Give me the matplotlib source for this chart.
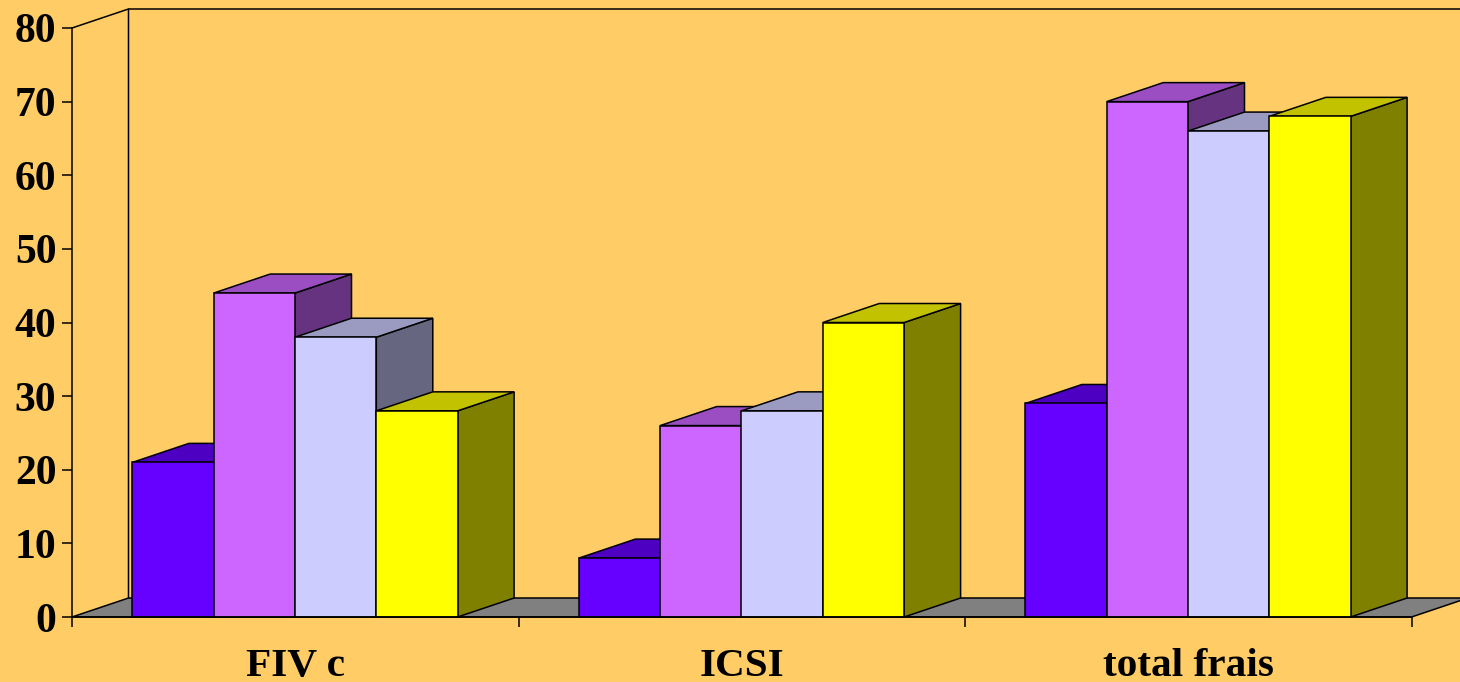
import matplotlib
matplotlib.use("Agg")
import matplotlib.pyplot as plt
import numpy as np

categories = ["FIV c", "ICSI", "total frais"]
series_1 = [21, 44, 38, 28]
series_2 = [8, 26, 28, 40]
series_3 = [29, 70, 66, 68]
yticks = list(range(0, 90, 10))

W, H = 1460, 682
BG = "#FFCC66"
FRONT = ["#6600FF", "#CC66FF", "#CCCCFF", "#FFFF00"]
TOP = ["#4D00C2", "#9B4EC2", "#9B9BC2", "#C2C200"]
SIDE = ["#330080", "#663380", "#666680", "#808000"]
FLOOR = "#808080"

plt.rcParams["font.family"] = ["Liberation Serif", "DejaVu Serif"]
fig = plt.figure(figsize=(W / 100, H / 100), dpi=100, facecolor=BG)
L, R, Y0, Y80 = 72.0, 1411.5, 617.0, 28.0
ax = fig.add_axes([L / W, 1 - Y0 / H, (R - L) / W, (Y0 - Y80) / H])
ax.set_xlim(0, 3)
ax.set_ylim(0, 80)
ax.patch.set_alpha(0)

ux = (R - L) / 3
uy = (Y0 - Y80) / 80
dx = 56.5 / ux
dy = 19.0 / uy
bar_w = 81.3 / ux
start = 60.4 / ux
lw = 1.1
kw = dict(edgecolor="black", linewidth=lw, clip_on=False, joinstyle="miter")

# floor and walls
right_end = 3 + dx
ax.fill([0, dx, right_end, 3], [0, dy, dy, 0], facecolor=FLOOR, zorder=1, **kw)
ax.plot([0, dx, dx], [80, 80 + dy, dy], color="black", lw=lw, clip_on=False, zorder=1)
ax.plot([dx, right_end], [80 + dy, 80 + dy], color="black", lw=lw, clip_on=False, zorder=1)

# bars
z = 2
for g, vals in enumerate([series_1, series_2, series_3]):
    for i, v in enumerate(vals):
        x0 = g + start + i * bar_w
        x1 = x0 + bar_w
        ax.fill([x1, x1 + dx, x1 + dx, x1], [0, dy, v + dy, v], facecolor=SIDE[i], zorder=z, **kw)
        ax.fill([x0, x0 + dx, x1 + dx, x1], [v, v + dy, v + dy, v], facecolor=TOP[i], zorder=z, **kw)
        ax.fill([x0, x1, x1, x0], [0, 0, v, v], facecolor=FRONT[i], zorder=z, **kw)
        z += 1

for s in ["top", "right"]:
    ax.spines[s].set_visible(False)
for s in ["left", "bottom"]:
    ax.spines[s].set_linewidth(lw)
    ax.spines[s].set_zorder(50)

ax.set_yticks(yticks)
ax.set_yticklabels([str(t) for t in yticks], fontsize=30, fontweight="bold")
ax.tick_params(axis="y", length=7.2, width=lw, pad=4)

ax.set_xticks([0, 1, 2, 3])
ax.set_xticklabels([])
ax.tick_params(axis="x", which="major", length=7.2, width=lw)
ax.set_xticks([0.5, 1.5, 2.5], minor=True)
ax.set_xticklabels(categories, minor=True, fontsize=29.7, fontweight="bold")
ax.tick_params(axis="x", which="minor", length=0, pad=22)

fig.savefig("out.png", dpi=100, facecolor=BG)
